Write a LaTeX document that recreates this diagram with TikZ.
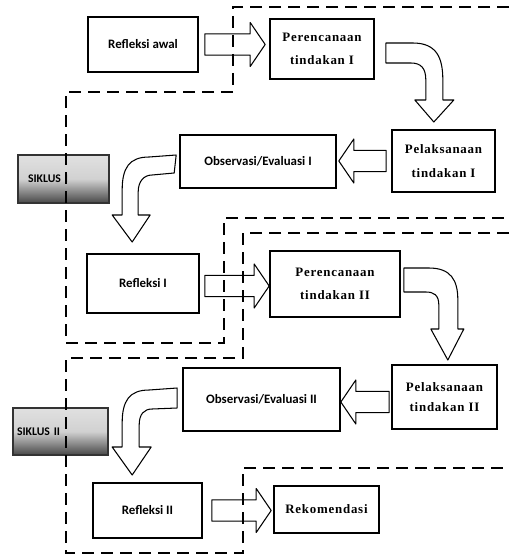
\documentclass[tikz,border=0pt]{standalone}
\usepackage{fontspec}
\usepackage{tikz}
\usetikzlibrary{calc}
\newfontfamily\stagesans{Carlito}
\newfontfamily\stageserif[LetterSpace=6]{Liberation Serif}

% straight block arrow: tail, tip, direction (1 = right, -1 = left)
\newcommand{\flatarrow}[3]{%
  \draw[blockarrow] let \p1=(#1), \p2=(#2) in
    (\x1,\y1+3.2mm) -- ({\x2-(#3)*4.5mm},\y1+3.2mm) -- ({\x2-(#3)*4.5mm},\y1+6.6mm)
    -- (\x2,\y1) -- ({\x2-(#3)*4.5mm},\y1-6.6mm) -- ({\x2-(#3)*4.5mm},\y1-3.2mm)
    -- (\x1,\y1-3.2mm) -- cycle;}

\begin{document}
\begin{tikzpicture}[x=0.3mm, y=-0.3mm,
    stagebox/.style={draw, line width=1.4pt, fill=white, inner sep=2pt, align=center},
    sanslab/.style={font=\stagesans\bfseries\fontsize{11}{13}\selectfont},
    seriflab/.style={font=\stageserif\bfseries\fontsize{11}{13}\selectfont},
    cyclebox/.style={draw=black!80, line width=1.1pt, top color=black!12, bottom color=black!72,
        middle color=black!18, inner ysep=0pt, align=left,
        font=\stagesans\bfseries\fontsize{10}{12}\selectfont},
    blockarrow/.style={draw, line width=0.9pt, fill=white, line join=round},
    cycleline/.style={line width=1.4pt, dash pattern=on 3.6mm off 2.1mm}
]
\useasboundingbox (0,0) rectangle (509,554);

% cycle labels
\node[cyclebox, text width=21.3mm, inner xsep=3mm, minimum height=14.4mm] (sik1) at (63.5,179) {SIKLUS I};
\node[cyclebox, text width=26.1mm, inner xsep=1.2mm, minimum height=14.1mm] (sik2) at (60.5,431.5) {SIKLUS II};

% stages
\node[stagebox, sanslab, minimum width=33mm, minimum height=16.5mm] (awal) at (143,44.5) {Refleksi awal};
\node[stagebox, seriflab, minimum width=31.2mm, minimum height=18mm] (renc1) at (322,49) {Perencanaan\\[7pt]tindakan I};
\node[stagebox, seriflab, minimum width=30.9mm, minimum height=18.6mm] (laks1) at (443.5,161) {Pelaksanaan\\[7pt]tindakan I};
\node[stagebox, sanslab, minimum width=46.8mm, minimum height=15.9mm] (obs1) at (258,161.5) {Observasi/Evaluasi I};
\node[stagebox, sanslab, minimum width=33.6mm, minimum height=17.7mm] (ref1) at (143,283.5) {Refleksi I};
\node[stagebox, seriflab, minimum width=39mm, minimum height=19.8mm] (renc2) at (335,284) {Perencanaan\\[7pt]tindakan II};
\node[stagebox, seriflab, minimum width=31.5mm, minimum height=19.2mm] (laks2) at (444.5,397) {Pelaksanaan\\[4pt]tindakan II};
\node[stagebox, sanslab, minimum width=47.1mm, minimum height=18.9mm] (obs2) at (261.5,399.5) {Observasi/Evaluasi II};
\node[stagebox, sanslab, minimum width=32.7mm, minimum height=16.5mm] (ref2) at (147.5,510.5) {Refleksi II};
\node[stagebox, seriflab, minimum width=31.5mm, minimum height=14.1mm] (rekom) at (326.5,509.5) {Rekomendasi};

% straight arrows
\flatarrow{$(awal.east)+(6,0)$}{$(renc1.west)+(-4,0)$}{1}
\flatarrow{$(laks1.west)+(-5,0)$}{$(obs1.east)+(2,0)$}{-1}
\flatarrow{$(ref1.east)+(5,2.5)$}{renc2.west}{1}
\flatarrow{$(laks2.west)+(-2,5)$}{obs2.east}{-1}
\flatarrow{$(ref2.east)+(9,0)$}{$(rekom.west)+(-2,0)$}{1}

% bent arrows
\draw[blockarrow] ($(renc1.east)+(11,-6)$) -- ++(27,0) .. controls +(24,0) and +(0,-22) .. ++(30,37)
    -- ++(0,20) -- ++(11,0) -- ++(-20,22) -- ++(-19,-22) -- ++(11,0) -- ++(0,-20)
    .. controls +(0,-12) and +(10,0) .. ++(-15,-17) -- ++(-25,0) -- cycle;
\draw[blockarrow] ($(renc2.east)+(3,-16)$) -- ++(25,0) .. controls +(22,0) and +(0,-20) .. ++(29,32)
    -- ++(0,29) -- ++(6,0) -- ++(-16,31) -- ++(-17,-31) -- ++(8,0) -- ++(0,-24)
    .. controls +(0,-10) and +(8,0) .. ++(-13,-13) -- ++(-22,0) -- cycle;
\draw[blockarrow] ($(obs1.west)+(-3,-6.5)$) -- ++(-27,2) .. controls +(-20,0) and +(0,-22) .. ++(-27,33)
    -- ++(0,25) -- ++(-10,0) -- ++(20,27) -- ++(18,-27) -- ++(-12,0) -- ++(0,-23)
    .. controls +(0,-11) and +(-8,0) .. ++(14,-17) -- ++(22,-2) -- cycle;
\draw[blockarrow] ($(obs2.west)+(-5,-11.5)$) -- ++(-28,2) .. controls +(-20,0) and +(0,-22) .. ++(-27,33)
    -- ++(0,24) -- ++(-10,0) -- ++(20,28) -- ++(19,-28) -- ++(-12,0) -- ++(0,-22)
    .. controls +(0,-11) and +(-8,0) .. ++(13,-16) -- ++(25,-1) -- cycle;

% cycle outlines
\draw[cycleline] (509,7) -- (233,7) -- (233,92) -- (66,92) -- (66,343) -- (224,343) -- (224,218) -- (509,218);
\draw[cycleline] (509,233) -- (243,233) -- (243,358) -- (66,358) -- (66,553) -- (243,553) -- (243,468) -- (509,468);

\end{tikzpicture}
\end{document}
